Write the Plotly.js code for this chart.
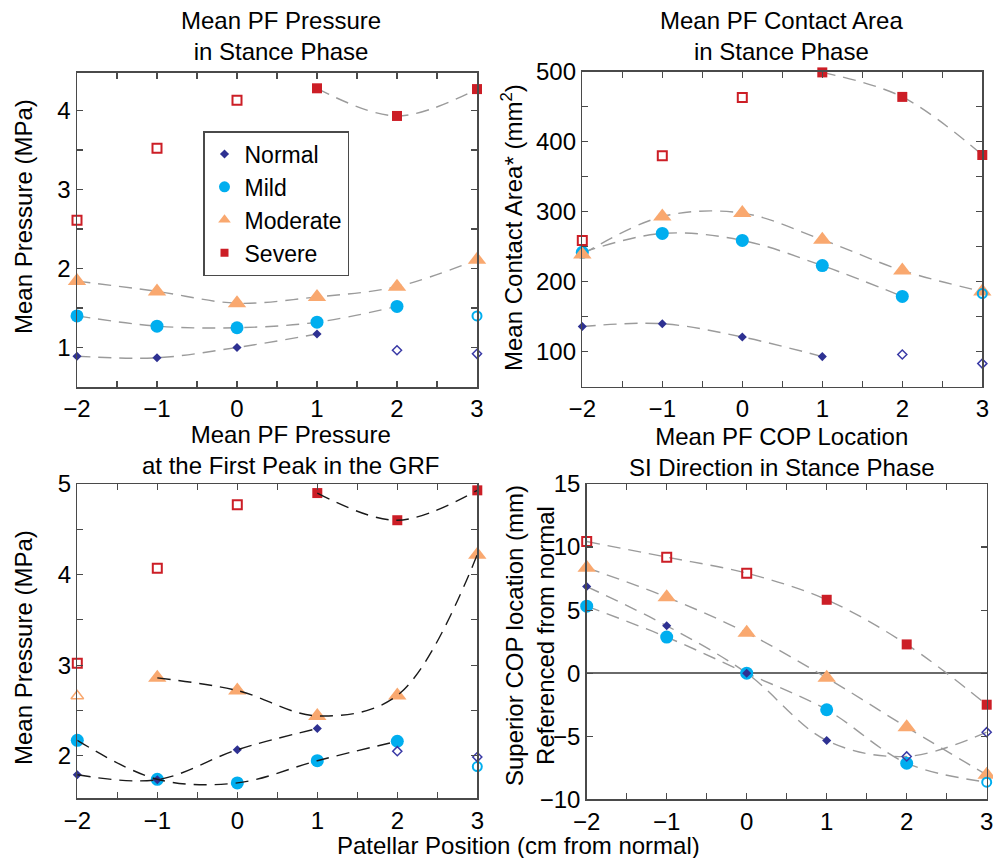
<!DOCTYPE html>
<html><head><meta charset="utf-8">
<script src="https://cdn.plot.ly/plotly-3.0.1.min.js"></script>
<style>body{margin:0;background:#fff}#chart{width:993px;height:858px}</style>
</head><body><div id="chart"></div>
<script>
// ---------- DATA ----------
const positions = [-2, -1, 0, 1, 2, 3];          // patellar position (cm from normal)
const seriesNames = ['Normal', 'Mild', 'Moderate', 'Severe'];

// Panel A: Mean PF pressure in stance phase (MPa)
const pressNormal   = [0.89, 0.87, 1.00, 1.17, 0.965, 0.92];
const pressMild     = [1.40, 1.27, 1.25, 1.32, 1.52, 1.40];
const pressModerate = [1.84, 1.71, 1.56, 1.64, 1.77, 2.11];
const pressSevere   = [2.61, 3.52, 4.13, 4.28, 3.93, 4.27];

// Panel B: Mean PF contact area in stance phase (mm^2)
const areaNormal   = [136, 140, 121, 93, 96, 83];
const areaMild     = [242, 269, 259, 223, 179, 183];
const areaModerate = [239, 293, 298, 260, 216, 186];
const areaSevere   = [259, 380, 463, 499, 464, 381];

// Panel C: Mean PF pressure at first GRF peak (MPa)
const peakNormal   = [1.79, 1.735, 2.066, 2.30, 2.05, 1.985];
const peakMild     = [2.17, 1.74, 1.70, 1.945, 2.16, 1.88];
const peakModerate = [2.66, 2.86, 2.72, 2.44, 2.665, 4.22];
const peakSevere   = [3.02, 4.07, 4.77, 4.90, 4.60, 4.93];

// Panel D: Superior COP location referenced from normal (mm)
const copNormal   = [6.87, 3.76, 0, -5.34, -6.6, -4.68];
const copMild     = [5.31, 2.86, 0, -2.9, -7.14, -8.64];
const copModerate = [8.36, 6.03, 3.2, -0.37, -4.28, -8.06];
const copSevere   = [10.44, 9.2, 7.93, 5.82, 2.28, -2.5];

// filled (1) vs open (0) markers
const filledNormal   = [1, 1, 1, 1, 0, 0];
const filledMild     = [1, 1, 1, 1, 1, 0];
const filledModerate = [1, 1, 1, 1, 1, 1];
const filledModeratePeak = [0, 1, 1, 1, 1, 1];
const filledSevere   = [0, 0, 0, 1, 1, 1];

// index ranges covered by the fitted dashed curves
const curvesStance = [[0, 3], [0, 4], [0, 5], [3, 5]];
const curvesPeak   = [[0, 3], [0, 4], [1, 5], [3, 5]];
const curvesCop    = [[0, 5], [0, 5], [0, 5], [0, 5]];

// ---------- STYLE ----------
const W = 993, H = 858;
const FONT = 'Liberation Sans, Arial, Helvetica, sans-serif';
const styles = {
  Normal:   {sym: 'diamond',     color: '#2e3192', size: 7,  osym: 'diamond-open',     osize: 7,  ow: 1.5, ocolor: '#3a3aa6'},
  Mild:     {sym: 'circle',      color: '#00aeef', size: 13, osym: 'circle-open',      osize: 9,  ow: 2,   ocolor: '#00aeef'},
  Moderate: {sym: 'triangle-up', color: '#f9a86f', size: 16, osym: 'triangle-up-open', osize: 11, ow: 1.5, ocolor: '#f9a86f'},
  Severe:   {sym: 'square',      color: '#cc1e26', size: 10, osym: 'square-open',      osize: 9,  ow: 2,   ocolor: '#cc1e26'}
};
const drawOrder = [1, 0, 2, 3]; // Mild, Normal, Moderate, Severe

function panelTraces(ax, vals, filled, curves, curveColor, curveOnTop) {
  const xa = 'x' + (ax === 1 ? '' : ax), ya = 'y' + (ax === 1 ? '' : ax);
  const curveTr = [], fillTr = [], openTr = [];
  seriesNames.forEach((name, i) => {
    const [a, b] = curves[i];
    curveTr.push({x: positions.slice(a, b + 1), y: vals[i].slice(a, b + 1), xaxis: xa, yaxis: ya,
      mode: 'lines', line: {shape: 'spline', smoothing: 1, dash: '13px,8px', width: 1.4, color: curveColor},
      showlegend: false, hoverinfo: 'skip'});
  });
  drawOrder.forEach(i => {
    const name = seriesNames[i], s = styles[name];
    fillTr.push({x: positions, y: vals[i].map((v, k) => filled[i][k] ? v : null), xaxis: xa, yaxis: ya,
      mode: 'markers', cliponaxis: false, showlegend: false,
      marker: {symbol: s.sym, color: s.color, size: s.size, line: {width: 0}}});
    openTr.push({x: positions, y: vals[i].map((v, k) => filled[i][k] ? null : v), xaxis: xa, yaxis: ya,
      mode: 'markers', cliponaxis: false, showlegend: false,
      marker: {symbol: s.osym, color: s.ocolor, size: s.osize, line: {width: s.ow, color: s.ocolor}}});
  });
  return curveOnTop ? fillTr.concat(openTr, curveTr) : curveTr.concat(fillTr, openTr);
}

const legendSizes = {Normal: 7, Mild: 11, Moderate: 11, Severe: 8};
const legendTraces = seriesNames.map(name => ({
  x: [null], y: [null], xaxis: 'x', yaxis: 'y', mode: 'markers', name: name, showlegend: true,
  marker: {symbol: styles[name].sym, color: styles[name].color, size: legendSizes[name]}
}));

const data = [].concat(
  panelTraces(1, [pressNormal, pressMild, pressModerate, pressSevere],
    [filledNormal, filledMild, filledModerate, filledSevere], curvesStance, '#9b9b9b', false),
  panelTraces(2, [areaNormal, areaMild, areaModerate, areaSevere],
    [filledNormal, filledMild, filledModerate, filledSevere], curvesStance, '#9b9b9b', false),
  panelTraces(3, [peakNormal, peakMild, peakModerate, peakSevere],
    [filledNormal, filledMild, filledModeratePeak, filledSevere], curvesPeak, '#1a1a1a', true),
  panelTraces(4, [copNormal, copMild, copModerate, copSevere],
    [filledNormal, filledMild, filledModerate, filledSevere], curvesCop, '#9b9b9b', false),
  legendTraces
);

const px = v => v / W, py = v => 1 - v / H;
function axisBase() {
  return {showline: true, linecolor: '#4a4a4a', linewidth: 1.5, mirror: 'ticks', ticks: 'inside',
    ticklen: 6, tickwidth: 1.2, tickcolor: '#4a4a4a', showgrid: false, zeroline: false,
    tickfont: {family: FONT, size: 24, color: '#000'}, fixedrange: true, ticklabeloverflow: 'allow',
    minor: {ticks: 'inside', ticklen: 6, tickwidth: 1.2, tickcolor: '#4a4a4a', showgrid: false}};
}
function xAxis(l, r, anchor) {
  return Object.assign(axisBase(), {domain: [px(l), px(r)], anchor: anchor, range: [-2, 3],
    tick0: 0, dtick: 1, minor: Object.assign(axisBase().minor, {dtick: 0.5})});
}
function yAxis(t, b, anchor, range, dtick, minor) {
  const a = Object.assign(axisBase(), {domain: [py(b), py(t)], anchor: anchor, range: range, tick0: 0, dtick: dtick});
  if (minor) a.minor = Object.assign(axisBase().minor, {dtick: minor}); else delete a.minor;
  return a;
}

const ann = (x, y, text, extra) => Object.assign({xref: 'paper', yref: 'paper', x: px(x), y: py(y),
  xanchor: 'center', yanchor: 'middle', showarrow: false, text: text,
  font: {family: FONT, size: 24, color: '#000'}}, extra || {});

const layout = {
  width: W, height: H, margin: {l: 0, r: 0, t: 0, b: 0},
  paper_bgcolor: '#fff', plot_bgcolor: '#fff', font: {family: FONT, size: 24, color: '#000'},
  showlegend: true,
  legend: {x: px(203), y: py(131), xanchor: 'left', yanchor: 'top', bgcolor: '#fff',
    bordercolor: '#4a4a4a', borderwidth: 1.5, font: {family: FONT, size: 23, color: '#000'},
    tracegroupgap: 0, itemclick: false, itemdoubleclick: false},
  xaxis:  xAxis(77, 477, 'y'),
  yaxis:  yAxis(72.5, 387, 'x', [0.5, 4.48], 1, 0.5),
  xaxis2: xAxis(582.3, 982.3, 'y2'),
  yaxis2: yAxis(71.7, 386.7, 'x2', [50, 500], 100, 50),
  xaxis3: xAxis(77.3, 477.3, 'y3'),
  yaxis3: yAxis(484, 798.3, 'x3', [1.53, 5], 1, 0.5),
  xaxis4: xAxis(586.7, 986.7, 'y4'),
  yaxis4: Object.assign(yAxis(484, 799.3, 'x4', [-10, 15], 5, null),
    {zeroline: true, zerolinecolor: '#6a6a6a', zerolinewidth: 1.5}),
  annotations: [
    ann(281, 36, 'Mean PF Pressure<br>in Stance Phase'),
    ann(781, 36, 'Mean PF Contact Area<br>in Stance Phase'),
    ann(290, 450, 'Mean PF Pressure<br>at the First Peak in the GRF'),
    ann(782, 452, 'Mean PF COP Location<br>SI Direction in Stance Phase'),
    ann(24, 217, 'Mean Pressure (MPa)', {textangle: -90}),
    ann(512, 228, 'Mean Contact Area* (mm<sup>2</sup>)', {textangle: -90}),
    ann(23, 648, 'Mean Pressure (MPa)', {textangle: -90}),
    ann(530, 636, 'Superior COP location (mm)<br>Referenced from normal', {textangle: -90}),
    ann(518, 845, 'Patellar Position (cm from normal)')
  ]
};

Plotly.newPlot('chart', data, layout, {staticPlot: true, displayModeBar: false});
</script>
</body></html>
